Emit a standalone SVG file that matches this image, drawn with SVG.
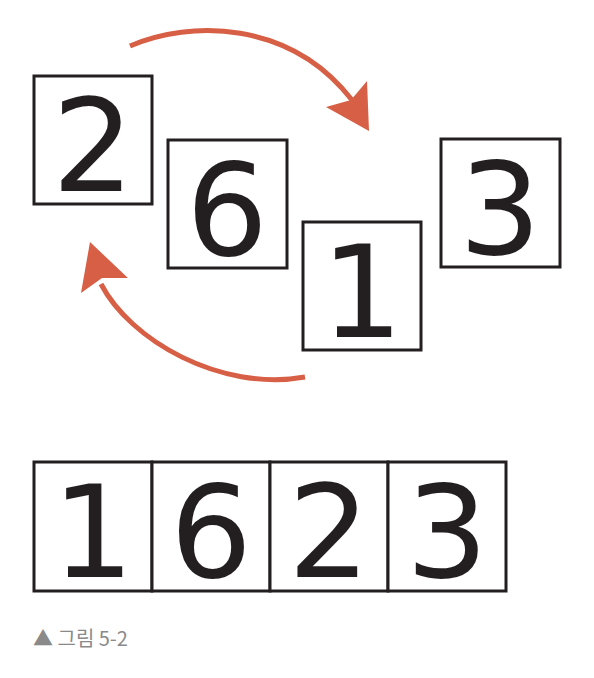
<svg xmlns="http://www.w3.org/2000/svg" width="594" height="678" viewBox="0 0 594 678">
<style>
.box{fill:#fff;stroke:#231f20;stroke-width:3}
.d{font-family:"DejaVu Sans","Noto Sans",sans-serif;font-size:129px;fill:#231f20;text-anchor:middle}
.arc{fill:none;stroke:#d65f45;stroke-width:5}
.head{fill:#d65f45}
.cap{font-family:"Noto Sans CJK KR","Noto Sans",sans-serif;font-size:20px;fill:#8a8a8a}
</style>
<rect width="594" height="678" fill="#fff"/>
<g id="n2"><rect class="box" x="34" y="76" width="118" height="128"/><text class="d" x="93" y="191">2</text></g>
<g id="n6"><rect class="box" x="168" y="140" width="119" height="128"/><text class="d" x="227" y="255">6</text></g>
<g id="n1"><rect class="box" x="303" y="222" width="118" height="128"/><text class="d" x="362" y="337">1</text></g>
<g id="n3"><rect class="box" x="441" y="139" width="119" height="128"/><text class="d" x="500" y="254">3</text></g>
<g id="connectors">
<path class="arc" d="M130,46 C190,20 290,20 352,100"/>
<polygon class="head" points="369,131 326,107 351,100 367,81"/>
<path class="arc" d="M305,377 C220,392 130,340 101,284"/>
<polygon class="head" points="90,242 81,293 102,278 128,278"/>
</g>
<g id="row">
<rect class="box" x="34" y="462" width="118" height="129"/>
<rect class="box" x="152" y="462" width="118" height="129"/>
<rect class="box" x="270" y="462" width="118" height="129"/>
<rect class="box" x="388" y="462" width="118" height="129"/>
<text class="d" x="93" y="577">1</text>
<text class="d" x="211" y="577">6</text>
<text class="d" x="329" y="577">2</text>
<text class="d" x="447" y="577">3</text>
</g>
<text class="cap" x="33" y="646">▲ 그림 5-2</text>
</svg>
